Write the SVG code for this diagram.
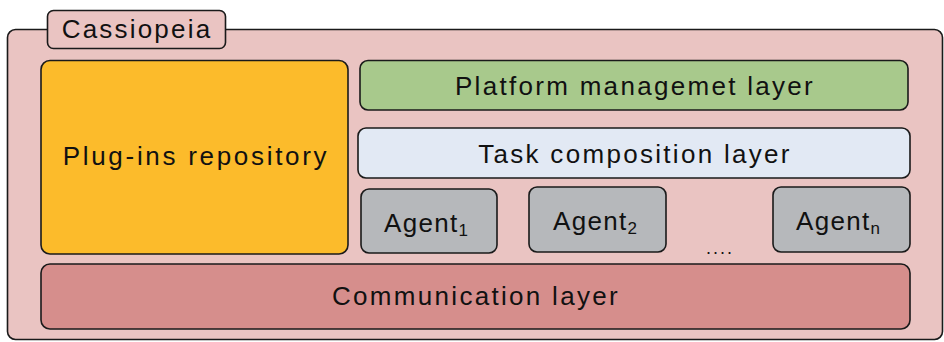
<svg xmlns="http://www.w3.org/2000/svg" width="944" height="342" viewBox="0 0 944 342">
<style>
.box{stroke:#1a1a1a;stroke-width:1.6}
.t{font-family:"Liberation Sans",Arial,sans-serif;font-size:26px;letter-spacing:2.3px;fill:#111;text-anchor:middle}
.a{font-family:"Liberation Sans",Arial,sans-serif;font-size:26px;letter-spacing:1.3px;fill:#111}
.s{font-size:17px;letter-spacing:0}
</style>
<rect width="944" height="342" fill="#ffffff"/>
<g id="cassiopeia">
<rect class="box" x="7.5" y="29.5" width="935" height="310" rx="8" fill="#eac4c2"/>
<rect class="box" x="47.5" y="10.5" width="178" height="38" rx="6" fill="#eac4c2"/>
<text class="t" x="137" y="38" style="font-size:26px;letter-spacing:2.2px">Cassiopeia</text>
</g>
<g id="plugins">
<rect class="box" x="41" y="60.5" width="307" height="193.5" rx="9" fill="#fcbb2b"/>
<text class="t" x="196" y="165" style="letter-spacing:2.7px">Plug-ins repository</text>
</g>
<g id="platform">
<rect class="box" x="360" y="60.5" width="548" height="49.5" rx="8" fill="#a8c98c"/>
<text class="t" x="635" y="95">Platform managemet layer</text>
</g>
<g id="task">
<rect class="box" x="358" y="128" width="552" height="50" rx="8" fill="#e2e9f4"/>
<text class="t" x="635" y="163">Task composition layer</text>
</g>
<g id="agent1">
<rect class="box" x="361" y="189" width="136" height="64" rx="8" fill="#b6b8bb"/>
<text class="a" x="384" y="232">Agent<tspan class="s" dy="4">1</tspan></text>
</g>
<g id="agent2">
<rect class="box" x="529" y="187" width="137" height="65" rx="8" fill="#b6b8bb"/>
<text class="a" x="553" y="230">Agent<tspan class="s" dy="4">2</tspan></text>
</g>
<g id="agentn">
<rect class="box" x="773" y="187" width="137" height="65" rx="8" fill="#b6b8bb"/>
<text class="a" x="796" y="230">Agent<tspan class="s" dy="4">n</tspan></text>
</g>
<g id="dots">
<text class="a" x="706" y="254" style="font-size:18px;letter-spacing:2px">....</text>
</g>
<g id="communication">
<rect class="box" x="41" y="264" width="869" height="65" rx="9" fill="#d68e8c"/>
<text class="t" x="476" y="305">Communication layer</text>
</g>
<g id="connectors"></g>
</svg>
